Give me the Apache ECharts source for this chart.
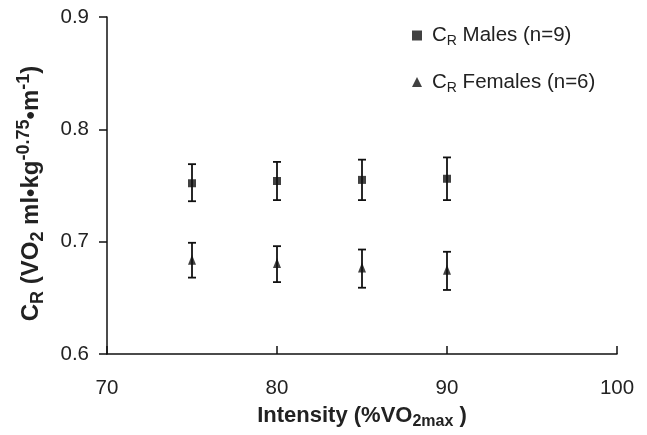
<!DOCTYPE html>
<html>
<head>
<meta charset="utf-8">
<script src="https://cdn.jsdelivr.net/npm/echarts@6/dist/echarts.min.js"></script>
<style>
  html, body { margin: 0; padding: 0; background: #fff; }
  #chart { width: 647px; height: 435px; }
</style>
</head>
<body>
<div id="chart"></div>
<script>
var intensity = [75, 80, 85, 90];
var malesMean = [0.752, 0.754, 0.755, 0.756];
var malesLow = [0.736, 0.737, 0.737, 0.737];
var malesHigh = [0.769, 0.771, 0.773, 0.775];
var femalesMean = [0.684, 0.681, 0.677, 0.675];
var femalesLow = [0.668, 0.664, 0.659, 0.657];
var femalesHigh = [0.699, 0.696, 0.693, 0.691];

var myChart = echarts.init(document.getElementById('chart'));

function pairs(xs, ys) {
  return xs.map(function (x, i) { return [x, ys[i]]; });
}
function errData(xs, lo, hi) {
  return xs.map(function (x, i) { return [x, lo[i], hi[i]]; });
}
function renderErr(params, api) {
  var x = api.value(0);
  var top = api.coord([x, api.value(2)]);
  var bot = api.coord([x, api.value(1)]);
  var hw = 4;
  var st = { stroke: '#111', lineWidth: 1.8 };
  return {
    type: 'group',
    children: [
      { type: 'line', shape: { x1: top[0], y1: top[1], x2: bot[0], y2: bot[1] }, style: st },
      { type: 'line', shape: { x1: top[0] - hw, y1: top[1], x2: top[0] + hw, y2: top[1] }, style: st },
      { type: 'line', shape: { x1: bot[0] - hw, y1: bot[1], x2: bot[0] + hw, y2: bot[1] }, style: st }
    ]
  };
}

var font = 'Liberation Sans, Arial, Helvetica, sans-serif';

var option = {
  backgroundColor: '#fff',
  animation: false,
  textStyle: { fontFamily: font },
  grid: { left: 107, right: 30, top: 17, bottom: 80 },
  legend: {
    orient: 'vertical',
    left: 407,
    top: 20,
    itemGap: 23,
    itemWidth: 10,
    itemHeight: 10,
    data: [
      { name: 'Males', icon: 'rect' },
      { name: 'Females', icon: 'triangle' }
    ],
    formatter: function (name) {
      return name === 'Males'
        ? '{g| }{n|C}{s|R}{n| Males (n=9)}'
        : '{g| }{n|C}{s|R}{n| Females (n=6)}';
    },
    textStyle: {
      rich: {
        g: { width: 5, fontSize: 10 },
        n: { fontSize: 20.5, color: '#222', fontFamily: font, lineHeight: 26, verticalAlign: 'middle' },
        s: { fontSize: 14, color: '#222', fontFamily: font, lineHeight: 26, verticalAlign: 'bottom' }
      }
    }
  },
  xAxis: {
    type: 'value',
    min: 70,
    max: 100,
    interval: 10,
    splitLine: { show: false },
    axisLine: { onZero: false, lineStyle: { color: '#111', width: 1.5 } },
    axisTick: { inside: true, length: 8, lineStyle: { color: '#111', width: 1.5 } },
    axisLabel: { color: '#222', fontSize: 20.5, margin: 24, fontFamily: font },
    name: '{b|Intensity (%VO}{bs|2max}{b| )}',
    nameLocation: 'middle',
    nameGap: 48,
    nameTextStyle: {
      rich: {
        b: { fontSize: 22, fontWeight: 'bold', color: '#222', fontFamily: font, lineHeight: 28, verticalAlign: 'middle' },
        bs: { fontSize: 16, fontWeight: 'bold', color: '#222', fontFamily: font, lineHeight: 28, verticalAlign: 'bottom' }
      }
    }
  },
  yAxis: {
    type: 'value',
    min: 0.6,
    max: 0.9,
    interval: 0.1,
    splitLine: { show: false },
    axisLine: { show: true, lineStyle: { color: '#111', width: 1.5 } },
    axisTick: { show: true, length: 8, lineStyle: { color: '#111', width: 1.5 } },
    axisLabel: {
      color: '#222', fontSize: 20.5, margin: 18, fontFamily: font,
      formatter: function (v) { return v.toFixed(1); }
    },
    name: '{b|C}{bs|R}{b| (VO}{bs|2}{b| ml•kg}{sp|-0.75}{b|•m}{sp|-1}{b|)}',
    nameLocation: 'middle',
    nameGap: 60,
    nameRotate: 90,
    nameTextStyle: {
      padding: [0, 16, 0, 0],
      rich: {
        b: { fontSize: 24, fontWeight: 'bold', color: '#222', fontFamily: font, lineHeight: 32, verticalAlign: 'middle' },
        bs: { fontSize: 18, fontWeight: 'bold', color: '#222', fontFamily: font, lineHeight: 32, verticalAlign: 'bottom' },
        sp: { fontSize: 18, fontWeight: 'bold', color: '#222', fontFamily: font, lineHeight: 32, verticalAlign: 'top' }
      }
    }
  },
  series: [
    {
      name: 'MalesErr',
      type: 'custom',
      renderItem: renderErr,
      data: errData(intensity, malesLow, malesHigh),
      z: 1
    },
    {
      name: 'FemalesErr',
      type: 'custom',
      renderItem: renderErr,
      data: errData(intensity, femalesLow, femalesHigh),
      z: 1
    },
    {
      name: 'Males',
      type: 'scatter',
      symbol: 'rect',
      symbolSize: 8,
      itemStyle: { color: '#111' },
      data: pairs(intensity, malesMean),
      z: 3
    },
    {
      name: 'Females',
      type: 'scatter',
      symbol: 'triangle',
      symbolSize: [8, 10],
      itemStyle: { color: '#111' },
      data: pairs(intensity, femalesMean),
      z: 3
    }
  ]
};
myChart.setOption(option);
</script>
</body>
</html>
